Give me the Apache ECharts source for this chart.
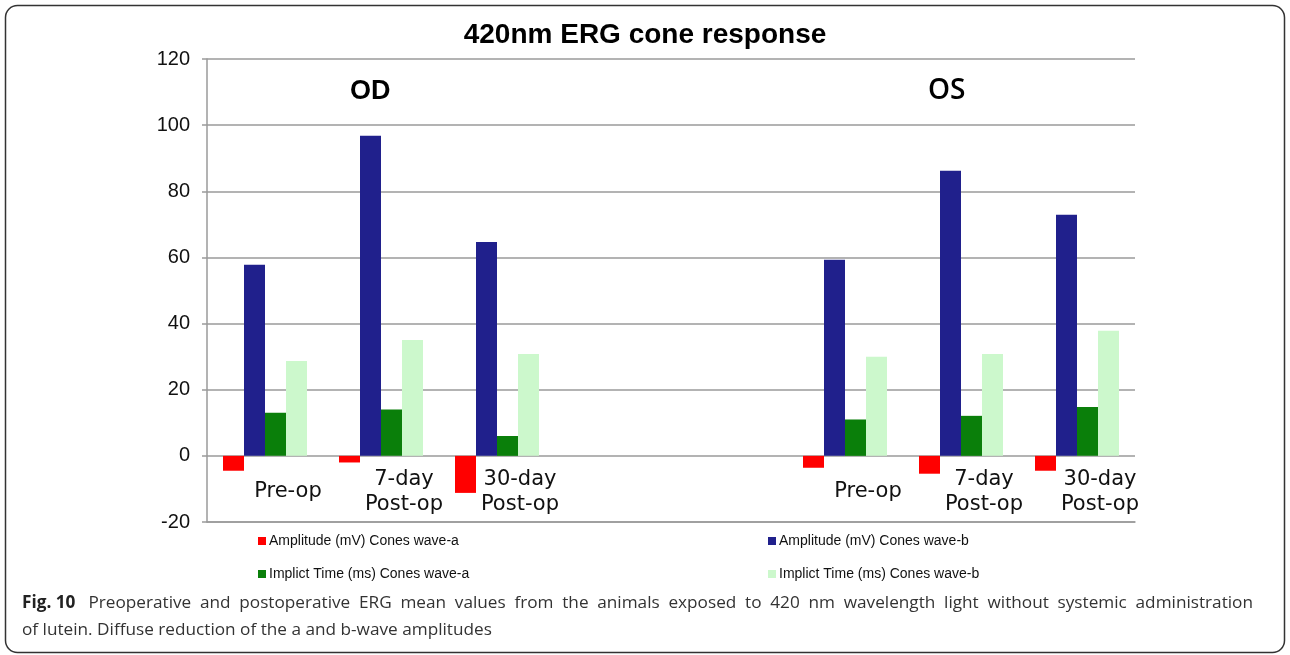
<!DOCTYPE html>
<html>
<head>
<meta charset="utf-8">
<script src="https://cdn.jsdelivr.net/npm/echarts@6/dist/echarts.min.js"></script>
<style>
html,body{margin:0;padding:0;background:#fff;}
#chart{width:1290px;height:655px;}
</style>
</head>
<body>
<div id="chart"></div>
<script>
// ---- data ----
var categories = ['Pre-op', '7-day\nPost-op', '30-day\nPost-op', '', '', 'Pre-op', '7-day\nPost-op', '30-day\nPost-op'];
var seriesNames = ['Amplitude (mV) Cones wave-a', 'Amplitude (mV) Cones wave-b', 'Implict Time (ms) Cones wave-a', 'Implict Time (ms) Cones wave-b'];
var ampWaveA = [-4.5, -2, -11.2, null, null, -3.6, -5.4, -4.5];
var ampWaveB = [57.8, 96.8, 64.7, null, null, 59.3, 86.2, 72.9];
var timeWaveA = [13, 14, 6, null, null, 11, 12.1, 14.8];
var timeWaveB = [28.7, 35, 30.8, null, null, 30, 30.8, 37.8];
var yTicks = {min: -20, max: 120, interval: 20};
var titleText = '420nm ERG cone response';
var groupLabels = ['OD', 'OS'];
var captionBold = 'Fig. 10';
var captionLine1 = 'Preoperative and postoperative ERG mean values from the animals exposed to 420 nm wavelength light without systemic administration';
var captionLine2 = 'of lutein. Diffuse reduction of the a and b-wave amplitudes';

var colors = ['#ff0000', '#20208c', '#0a7f0a', '#ccf8cc'];
var seriesData = [ampWaveA, ampWaveB, timeWaveA, timeWaveB];

var chart = echarts.init(document.getElementById('chart'), null, {renderer: 'canvas'});

var series = seriesNames.map(function (n, i) {
  return {
    name: n,
    type: 'bar',
    data: seriesData[i],
    barWidth: 21,
    barGap: '0%',
    itemStyle: {color: colors[i]},
    emphasis: {disabled: true},
    animation: false
  };
});

function legendAt(i, left, top) {
  return {
    data: [seriesNames[i]],
    left: left, top: top,
    padding: 0,
    itemWidth: 8, itemHeight: 8,
    icon: 'rect',
    selectedMode: false,
    textStyle: {fontFamily: 'Liberation Sans', fontSize: 14, color: '#111', padding: [0, 0, 0, -2]}
  };
}

// justified caption (first line stretched to the right edge, as in the printed figure)
var capFont = '17.2px "Open Sans"';
var capBoldFont = 'bold 17.2px "Open Sans"';
var mctx = document.createElement('canvas').getContext('2d');
function textW(t, f) { mctx.font = f; return mctx.measureText(t).width; }
var capGraphics = [];
var capLeft = 22, capRight = 1253, capY1 = 603, capY2 = 630;
capGraphics.push({type: 'text', x: capLeft, y: capY1,
  style: {text: captionBold, font: capBoldFont, fill: '#222', textVerticalAlign: 'middle'}});
var wordsStart = capLeft + textW(captionBold, capBoldFont) + 13;
var words = captionLine1.split(' ');
var wsum = 0;
words.forEach(function (w) { wsum += textW(w, capFont); });
var gap = (capRight - wordsStart - wsum) / (words.length - 1);
var cx = wordsStart;
words.forEach(function (w) {
  capGraphics.push({type: 'text', x: cx, y: capY1,
    style: {text: w, font: capFont, fill: '#333', textVerticalAlign: 'middle'}});
  cx += textW(w, capFont) + gap;
});
capGraphics.push({type: 'text', x: capLeft, y: capY2,
  style: {text: captionLine2, font: capFont, fill: '#333', textVerticalAlign: 'middle'}});

var option = {
  animation: false,
  color: colors,
  title: {
    text: titleText,
    left: 'center',
    top: 16,
    textStyle: {fontFamily: 'Liberation Sans', fontWeight: 'bold', fontSize: 28, color: '#000'}
  },
  legend: [
    legendAt(0, 258, 534),
    legendAt(1, 768, 534),
    legendAt(2, 258, 567),
    legendAt(3, 768, 567)
  ],
  grid: {left: 207, right: 155, top: 59, bottom: 133, containLabel: false},
  xAxis: {
    type: 'category',
    data: categories,
    axisLine: {show: true, onZero: false, lineStyle: {color: '#9a9a9a', width: 1.5}},
    axisTick: {show: false},
    axisLabel: {
      interval: 0,
      margin: -30,
      verticalAlign: 'middle',
      fontFamily: 'DejaVu Sans',
      fontSize: 21,
      lineHeight: 25,
      color: '#111',
      padding: [0, 0, 0, 46]
    },
    splitLine: {show: false}
  },
  yAxis: {
    type: 'value',
    min: yTicks.min, max: yTicks.max, interval: yTicks.interval,
    axisLine: {show: true, lineStyle: {color: '#9a9a9a', width: 1.5}},
    axisTick: {show: true, inside: false, length: 5, lineStyle: {color: '#9a9a9a', width: 1.5}},
    axisLabel: {fontFamily: 'Liberation Sans', fontSize: 20, color: '#111', margin: 17},
    splitLine: {show: true, lineStyle: {color: '#9a9a9a', width: 1.5}}
  },
  series: series,
  graphic: [
    {
      type: 'rect',
      shape: {x: 5.5, y: 5.5, width: 1279, height: 647, r: 12},
      style: {fill: 'none', stroke: '#333', lineWidth: 1.5},
      silent: true, z: -1
    },
    {
      type: 'text', left: 350, top: 78,
      style: {text: groupLabels[0], font: 'bold 27px "Liberation Sans"', fill: '#000'}
    },
    {
      type: 'text', left: 928, top: 77,
      style: {text: groupLabels[1], font: '600 28px "Open Sans"', fill: '#000'}
    }
  ].concat(capGraphics)
};
chart.setOption(option);
</script>
</body>
</html>
